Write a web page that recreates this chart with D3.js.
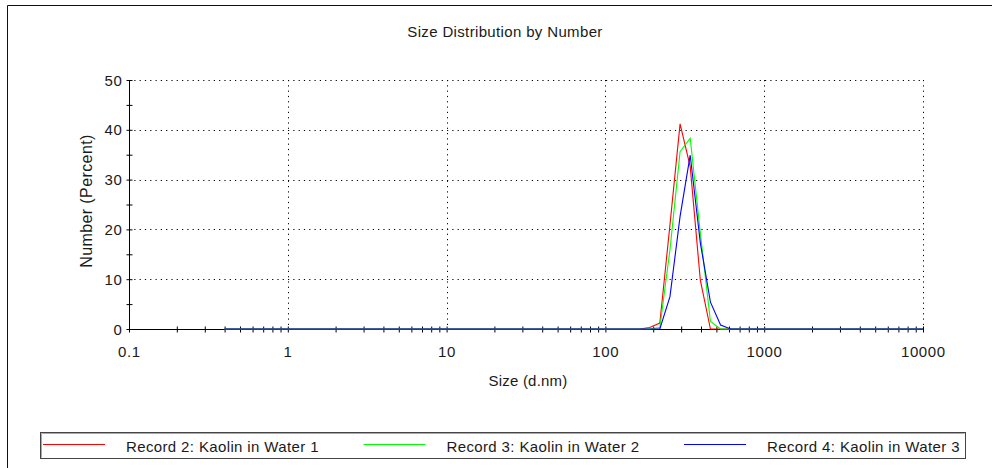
<!DOCTYPE html>
<html>
<head>
<meta charset="utf-8">
<script src="https://cdn.jsdelivr.net/npm/d3@7"></script>
<style>
  body { margin: 0; background: #fff; }
  svg { display: block; font-family: "Liberation Sans", Arial, sans-serif; }
  text { fill: #1a1a1a; }
</style>
</head>
<body>
<svg id="chart" width="992" height="468"></svg>
<script>
// size bins (d.nm) - only the part where something happens, rest stays 0
const sizes = [0.4, 164.2, 190.1, 220.2, 255.0, 295.3, 342.0, 396.1, 458.7, 531.2, 615.1, 712.4, 10000];
const record2 = [0, 0, 0.3, 1.2, 20.9, 41.2, 32.6, 9.8, 0, 0, 0, 0, 0];
const record3 = [0, 0, 0, 0.3, 15.9, 35.6, 38.3, 19.3, 1.5, 0, 0, 0, 0];
const record4 = [0, 0, 0, 0, 6.5, 22.6, 34.9, 17.3, 5.4, 0.8, 0, 0, 0];

const seriesNames = ["Record 2: Kaolin in Water 1", "Record 3: Kaolin in Water 2", "Record 4: Kaolin in Water 3"];
const seriesColors = ["#ff0000", "#00ff00", "#0000ff"];
const xMajor = [0.1, 1, 10, 100, 1000, 10000];
const xLabels = ["0.1", "1", "10", "100", "1000", "10000"];
const yTicks = [0, 5, 10, 15, 20, 25, 30, 35, 40, 45, 50];
const yLabels = [0, 10, 20, 30, 40, 50];

const series = [record2, record3, record4];

const svg = d3.select("#chart");

// outer frame (only top + left visible)
svg.append("path")
  .attr("d", "M7.5,468 V5.5 H992")
  .attr("fill", "none")
  .attr("stroke", "#111")
  .attr("stroke-width", 1);

const x = d3.scaleLog().domain([0.1, 10000]).range([129, 923]);
const y = d3.scaleLinear().domain([0, 50]).range([329, 80]);

// grid (dotted)
const grid = svg.append("g").attr("stroke", "#000").attr("stroke-width", 1).attr("stroke-dasharray", "1.2,4.1");
grid.selectAll("line.h")
  .data(yLabels.filter(v => v > 0))
  .join("line")
  .attr("class", "h")
  .attr("x1", x(0.1)).attr("x2", x(10000))
  .attr("y1", d => Math.round(y(d)) + 0.5).attr("y2", d => Math.round(y(d)) + 0.5);
grid.selectAll("line.v")
  .data(xMajor.slice(1))
  .join("line")
  .attr("class", "v")
  .attr("y1", y(50)).attr("y2", y(0))
  .attr("x1", d => Math.round(x(d)) + 0.5).attr("x2", d => Math.round(x(d)) + 0.5);

// minor + major x ticks
const xTickVals = [];
xMajor.forEach((m, i) => {
  xTickVals.push(m);
  if (i < xMajor.length - 1) for (let k = 2; k <= 9; k++) xTickVals.push(m * k);
});

const xAxis = d3.axisBottom(x)
  .tickValues(xTickVals)
  .tickSize(3)
  .tickFormat("");
const gx = svg.append("g")
  .attr("transform", `translate(0,${Math.round(y(0)) + 0.5})`)
  .call(xAxis);
gx.select(".domain").attr("stroke", "#000").attr("d", `M${x(0.1)},0H${x(10000)}`);
gx.selectAll(".tick line").attr("y1", -3).attr("y2", 3).attr("stroke", "#000");

svg.append("g").selectAll("text")
  .data(xMajor)
  .join("text")
  .attr("x", d => x(d) + 0.3)
  .attr("y", 357)
  .attr("text-anchor", "middle")
  .attr("font-size", 15)
  .attr("letter-spacing", 0.6)
  .text((d, i) => xLabels[i]);

const yAxis = d3.axisLeft(y).tickValues(yTicks).tickSize(3).tickFormat("");
const gy = svg.append("g")
  .attr("transform", `translate(${Math.round(x(0.1)) + 0.5},0)`)
  .call(yAxis);
gy.select(".domain").attr("stroke", "#000").attr("d", `M0,${y(50)}V${y(0)}`);
gy.selectAll(".tick line").attr("x1", -3).attr("x2", 3).attr("stroke", "#000");

svg.append("g").selectAll("text")
  .data(yLabels)
  .join("text")
  .attr("x", 122.5)
  .attr("y", d => y(d) + 5.5)
  .attr("text-anchor", "end")
  .attr("font-size", 15)
  .attr("letter-spacing", 0.6)
  .text(d => d);

// titles
svg.append("text")
  .attr("x", 505).attr("y", 37)
  .attr("text-anchor", "middle")
  .attr("font-size", 15)
  .attr("letter-spacing", 0.35)
  .text("Size Distribution by Number");

svg.append("text")
  .attr("x", 528).attr("y", 386)
  .attr("text-anchor", "middle")
  .attr("font-size", 15)
  .attr("letter-spacing", 0.2)
  .text("Size (d.nm)");

svg.append("text")
  .attr("transform", "translate(92,201) rotate(-90)")
  .attr("text-anchor", "middle")
  .attr("font-size", 16)
  .attr("letter-spacing", 0.4)
  .text("Number (Percent)");

// curves
const line = d3.line()
  .x((d, i) => x(sizes[i]))
  .y(d => y(d));

svg.append("g").selectAll("path")
  .data(series)
  .join("path")
  .attr("d", d => line(d))
  .attr("fill", "none")
  .attr("stroke", (d, i) => seriesColors[i])
  .attr("stroke-width", 1.1);

// legend
const leg = svg.append("g");
leg.append("rect")
  .attr("x", 40.5).attr("y", 432.5).attr("width", 925).attr("height", 26)
  .attr("fill", "#fff").attr("stroke", "#444");
leg.append("path")
  .attr("d", "M41.5,457.5 V433.5 H964.5")
  .attr("fill", "none").attr("stroke", "#aaa");

const items = leg.selectAll("g.item")
  .data(seriesNames)
  .join("g")
  .attr("class", "item")
  .attr("transform", (d, i) => `translate(${43 + i * 320.5},0)`);
items.append("line")
  .attr("x1", 0).attr("x2", 62)
  .attr("y1", 444.5).attr("y2", 444.5)
  .attr("stroke", (d, i) => seriesColors[i]);
items.append("text")
  .attr("x", 83).attr("y", 451.5)
  .attr("font-size", 15)
  .attr("letter-spacing", 0.37)
  .text(d => d);
</script>
</body>
</html>
